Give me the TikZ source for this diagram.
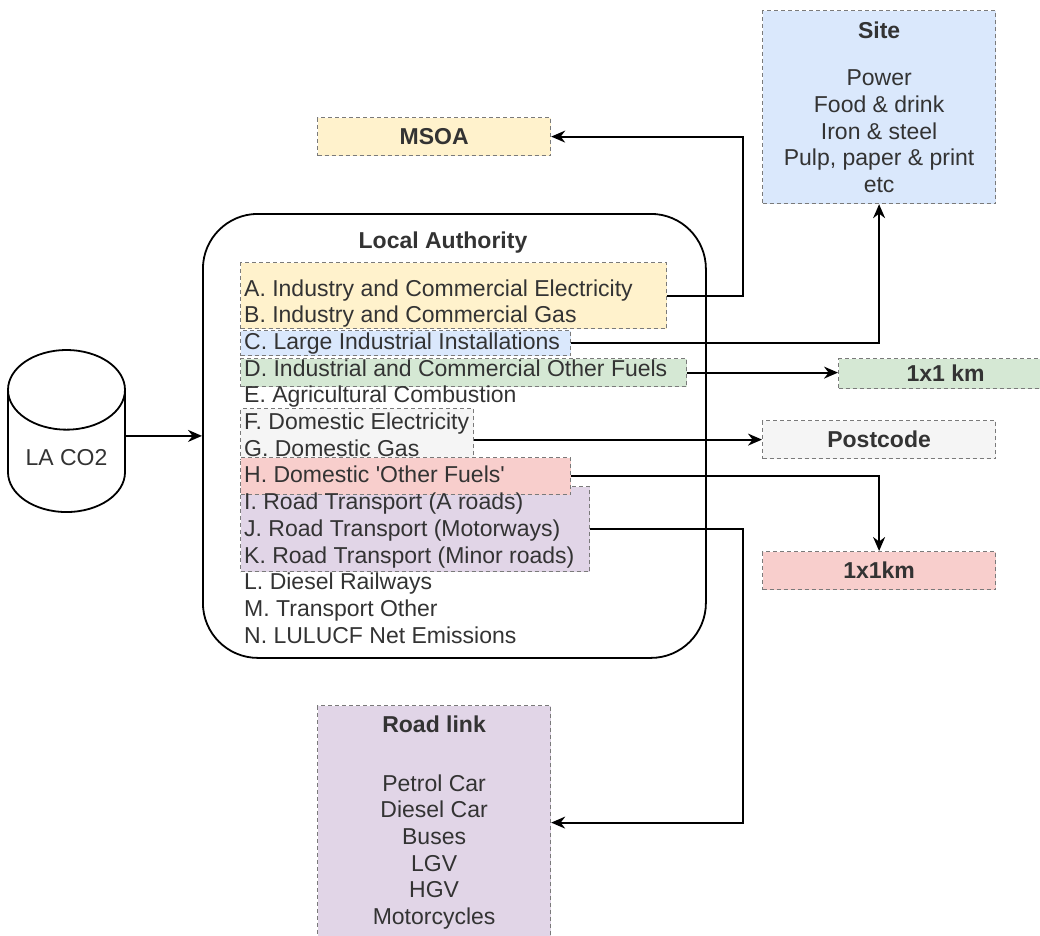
\documentclass[tikz,border=0pt]{standalone}
\usepackage{fontspec}
\setmainfont{Liberation Sans}
\usetikzlibrary{positioning,arrows.meta,shapes.geometric}

\definecolor{txtgray}{HTML}{333333}
\definecolor{edgegray}{HTML}{7A7A7A}
\definecolor{yellowbg}{HTML}{FFF2CC}
\definecolor{bluebg}{HTML}{DAE8FC}
\definecolor{greenbg}{HTML}{D5E8D4}
\definecolor{graybg}{HTML}{F5F5F5}
\definecolor{redbg}{HTML}{F8CECC}
\definecolor{purplebg}{HTML}{E1D5E7}

\newcommand{\bodyfont}{\fontsize{23}{26.7}\selectfont}

\tikzset{
  hlbox/.style={draw=edgegray, line width=1.2pt, dash pattern=on 4pt off 3pt, anchor=north west, inner sep=2pt},
  conn/.style={draw=black, line width=1.8pt, -{Stealth[length=14pt, width=12pt]}}
}

\begin{document}
\begin{tikzpicture}[x=1pt, y=-1pt, every node/.style={font=\bodyfont, text=txtgray}]
    \useasboundingbox (0,0) rectangle (1040,935);

    % source
    \node[cylinder, shape border rotate=90, draw=black, line width=1.8pt, aspect=0.9, minimum width=117pt, minimum height=162pt] (laco2) at (66.5,458) {LA CO2};

    % local authority frame
    \node[draw=black, line width=1.8pt, rounded corners=55pt, minimum width=503pt, minimum height=444pt, anchor=north west] (la) at (202,213) {};
    \node[font=\bodyfont\bfseries] (latitle) at (443,243) {Local Authority};

    % highlighted groups
    \node[hlbox, fill=yellowbg, minimum width=426pt, minimum height=66pt] (grpAB) at (240,262) {};
    \node[hlbox, fill=bluebg, minimum width=330pt, minimum height=25pt] (grpC) at (240,330) {};
    \node[hlbox, fill=greenbg, minimum width=446pt, minimum height=28pt] (grpD) at (240,358) {};
    \node[hlbox, fill=graybg, minimum width=233pt, minimum height=51pt] (grpFG) at (240,408) {};
    \node[hlbox, fill=purplebg, minimum width=349pt, minimum height=85pt] (grpIK) at (240,486) {};
    \node[hlbox, fill=redbg, minimum width=330pt, minimum height=37pt] (grpH) at (240,457) {};

    % sectors
    \foreach \lbl [count=\i from 0] in {A. Industry and Commercial Electricity, B. Industry and Commercial Gas, C. Large Industrial Installations, D. Industrial and Commercial Other Fuels, E. Agricultural Combustion, F. Domestic Electricity, G. Domestic Gas, H. Domestic \textquotesingle Other Fuels\textquotesingle, I. Road Transport (A roads), J. Road Transport (Motorways), K. Road Transport (Minor roads), L. Diesel Railways, M. Transport Other, N. LULUCF Net Emissions}
      \node[anchor=base west, inner sep=0pt] (row\i) at (244,296+26.7*\i) {\lbl};

    % outputs
    \node[hlbox, fill=yellowbg, minimum width=233pt, minimum height=38pt, font=\bodyfont\bfseries] (msoa) at (317,117) {MSOA};
    \node[hlbox, fill=bluebg, minimum width=233pt, minimum height=193pt, align=center] (site) at (762,10) {\textbf{Site}\\[21pt]Power\\Food \& drink\\Iron \& steel\\Pulp, paper \& print\\etc};
    \node[hlbox, fill=greenbg, minimum width=214pt, minimum height=30pt, font=\bodyfont\bfseries] (onekm) at (838,358) {1x1 km};
    \node[hlbox, fill=graybg, minimum width=233pt, minimum height=38pt, font=\bodyfont\bfseries] (postcode) at (762,420) {Postcode};
    \node[hlbox, fill=redbg, minimum width=233pt, minimum height=38pt, font=\bodyfont\bfseries] (redkm) at (762,551) {1x1km};
    \node[hlbox, fill=purplebg, minimum width=233pt, minimum height=234pt, align=center] (roadlink) at (317,705) {\textbf{Road link}\\[32pt]Petrol Car\\Diesel Car\\Buses\\LGV\\HGV\\Motorcycles};

    \coordinate (bendA) at (743,0);

    % connectors
    \draw[conn] (la.west -| laco2.east) -- (la.west);
    \draw[conn] (grpAB.east) -- (grpAB.east -| bendA) |- (msoa.east);
    \draw[conn] (grpC.east) -| (site.south);
    \draw[conn] (grpD.east) -- (grpD.east -| onekm.west);
    \draw[conn] (grpFG.east |- postcode.west) -- (postcode.west);
    \draw[conn] (grpH.east) -| (redkm.north);
    \draw[conn] (grpIK.east) -- (grpIK.east -| bendA) |- (roadlink.east);
  \end{tikzpicture}
\end{document}
